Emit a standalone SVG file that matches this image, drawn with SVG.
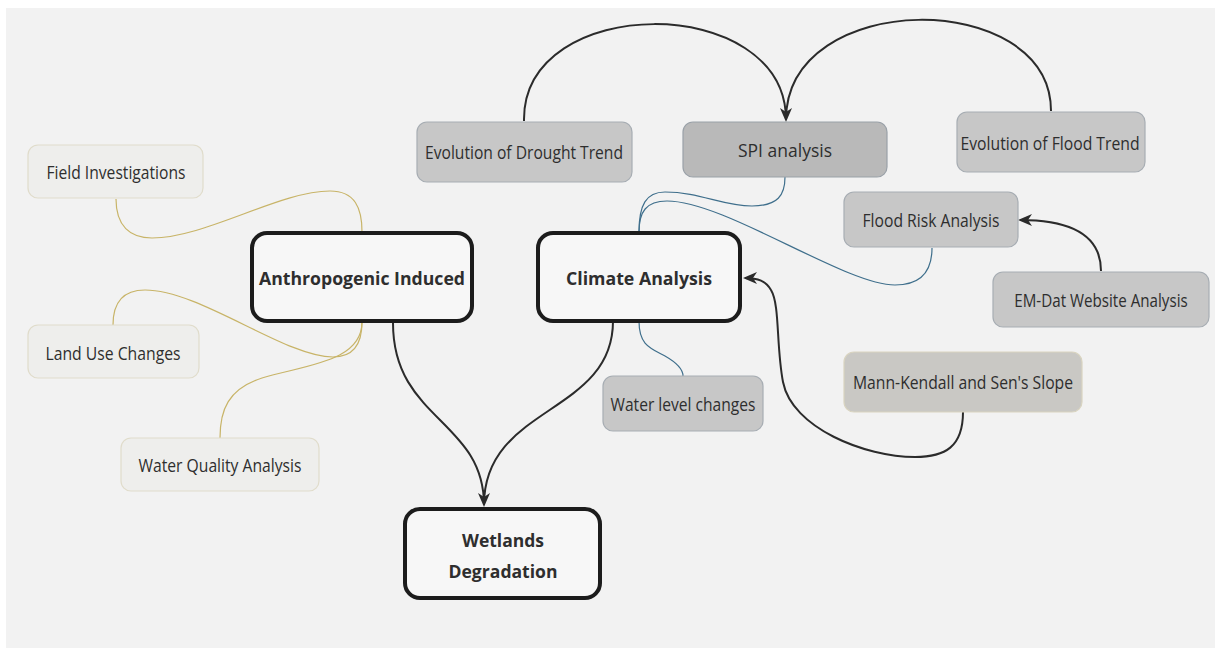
<svg xmlns="http://www.w3.org/2000/svg" width="1215" height="648" viewBox="0 0 1215 648">
  <style>
    .main rect { fill: #f7f7f7; stroke: #1c1c1c; stroke-width: 4; }
    .main text { font-family: "Open Sans", "Liberation Sans", sans-serif; font-weight: 700; font-size: 21.5px; fill: #1c1c1c; text-anchor: middle; }
    .light rect { fill: #eeeeec; stroke: #e0dccb; stroke-width: 1.2; }
    .gray rect { fill: #c7c7c7; stroke: #a7adb3; stroke-width: 1.2; }
    .dark rect { fill: #b9b9b9; stroke: #9aa1a8; stroke-width: 1.2; }
    .sand rect { fill: #c9c8c4; stroke: #d9d4c0; stroke-width: 1.2; }
    .node text { font-family: "Open Sans", "Liberation Sans", sans-serif; font-size: 18.5px; fill: #2e2e2e; text-anchor: middle; }
    .arrow { fill: none; stroke: #2b2b2b; stroke-width: 2; }
    .olive { fill: none; stroke: #c8b468; stroke-width: 1.2; }
    .blue { fill: none; stroke: #3f6f8c; stroke-width: 1.2; }
  </style>
  <defs>
    <marker id="head" viewBox="0 0 14 14" refX="12" refY="7" markerWidth="14" markerHeight="14" markerUnits="userSpaceOnUse" orient="auto">
      <path d="M0,1 L14,7 L0,13 L4,7 z" fill="#2b2b2b"/>
    </marker>
  </defs>

  <!-- canvas -->
  <rect x="6" y="8" width="1209" height="640" fill="#f2f2f2"/>

  <!-- connectors -->
  <g id="connectors">
    <!-- trend analyses feeding SPI -->
    <path class="arrow" d="M524,121 C522,-8 786,-8 786,120" marker-end="url(#head)"/>
    <path class="arrow" d="M1051,111 C1051,-12 786,-12 786,120"/>
    <!-- EM-Dat to flood risk -->
    <path class="arrow" d="M1101,271 C1101,238 1075,220 1020,220" marker-end="url(#head)"/>
    <!-- trend tests to climate analysis -->
    <path class="arrow" d="M963,412 C963,447 945,457 915,457 C865,457 792,428 783,382 C776,345 780,305 771,290 C766,281 758,278 745,278" marker-end="url(#head)"/>
    <!-- drivers into wetlands degradation -->
    <path class="arrow" d="M393,323 C393,420 484,420 484,505" marker-end="url(#head)"/>
    <path class="arrow" d="M613,321 C613,415 484,405 484,505"/>
    <!-- anthropogenic branches -->
    <path class="olive" d="M116,199 C116,226 130,238 152,238 C205,238 280,191 330,191 C355,191 362,208 362,232"/>
    <path class="olive" d="M362,322 C362,345 352,357 333,357 C285,357 200,290 145,290 C121,290 113,305 113,325"/>
    <path class="olive" d="M362,322 C362,362 305,365 262,378 C228,389 220,410 220,438"/>
    <!-- climate branches -->
    <path class="blue" d="M639,232 C639,205 646,192 665,192 C700,192 722,206 752,206 C778,206 785,195 785,177"/>
    <path class="blue" d="M639,232 C639,212 646,201 667,201 C725,201 845,285 895,285 C922,285 932,270 932,248"/>
    <path class="blue" d="M639,321 C639,345 650,348 665,356 C679,364 683,370 683,376"/>
  </g>

  <!-- nodes -->
  <g id="field-investigations" class="node light">
    <rect x="28" y="145" width="175" height="53" rx="10"/>
    <text x="116" y="179" textLength="139" lengthAdjust="spacingAndGlyphs">Field Investigations</text>
  </g>
  <g id="land-use-changes" class="node light">
    <rect x="28" y="325" width="171" height="53" rx="10"/>
    <text x="113" y="360" textLength="135" lengthAdjust="spacingAndGlyphs">Land Use Changes</text>
  </g>
  <g id="water-quality-analysis" class="node light">
    <rect x="121" y="438" width="198" height="53" rx="10"/>
    <text x="220" y="472" textLength="163" lengthAdjust="spacingAndGlyphs">Water Quality Analysis</text>
  </g>

  <g id="anthropogenic-induced" class="node main">
    <rect x="252" y="233" width="220" height="88" rx="15"/>
    <text x="362" y="285" textLength="206" lengthAdjust="spacingAndGlyphs">Anthropogenic Induced</text>
  </g>
  <g id="climate-analysis" class="node main">
    <rect x="538" y="233" width="202" height="88" rx="15"/>
    <text x="639" y="285" textLength="146" lengthAdjust="spacingAndGlyphs">Climate Analysis</text>
  </g>
  <g id="wetlands-degradation" class="node main">
    <rect x="405" y="509" width="195" height="89" rx="15"/>
    <text x="503" y="547" textLength="82" lengthAdjust="spacingAndGlyphs">Wetlands</text>
    <text x="503" y="578" textLength="109" lengthAdjust="spacingAndGlyphs">Degradation</text>
  </g>

  <g id="drought-trend" class="node gray">
    <rect x="417" y="122" width="215" height="60" rx="10"/>
    <text x="524" y="159" textLength="198" lengthAdjust="spacingAndGlyphs">Evolution of Drought Trend</text>
  </g>
  <g id="spi-analysis" class="node dark">
    <rect x="683" y="122" width="204" height="55" rx="10"/>
    <text x="785" y="157" font-size="20.5" textLength="94" lengthAdjust="spacingAndGlyphs">SPI analysis</text>
  </g>
  <g id="flood-trend" class="node gray">
    <rect x="957" y="112" width="188" height="60" rx="10"/>
    <text x="1050" y="150" textLength="179" lengthAdjust="spacingAndGlyphs">Evolution of Flood Trend</text>
  </g>
  <g id="flood-risk" class="node gray">
    <rect x="844" y="192" width="174" height="55" rx="10"/>
    <text x="931" y="227" textLength="137" lengthAdjust="spacingAndGlyphs">Flood Risk Analysis</text>
  </g>
  <g id="emdat" class="node gray">
    <rect x="993" y="272" width="216" height="55" rx="10"/>
    <!-- horizontally condensed to sit inside the box -->
    <text transform="translate(1101,307) scale(0.82,1)" x="0" y="0">EM-Dat Website Analysis</text>
  </g>
  <g id="mann-kendall" class="node sand">
    <rect x="844" y="352" width="238" height="60" rx="10"/>
    <text x="963" y="389" textLength="220" lengthAdjust="spacingAndGlyphs">Mann-Kendall and Sen's Slope</text>
  </g>
  <g id="water-level" class="node gray">
    <rect x="603" y="376" width="160" height="55" rx="10"/>
    <text x="683" y="411" textLength="145" lengthAdjust="spacingAndGlyphs">Water level changes</text>
  </g>
</svg>
